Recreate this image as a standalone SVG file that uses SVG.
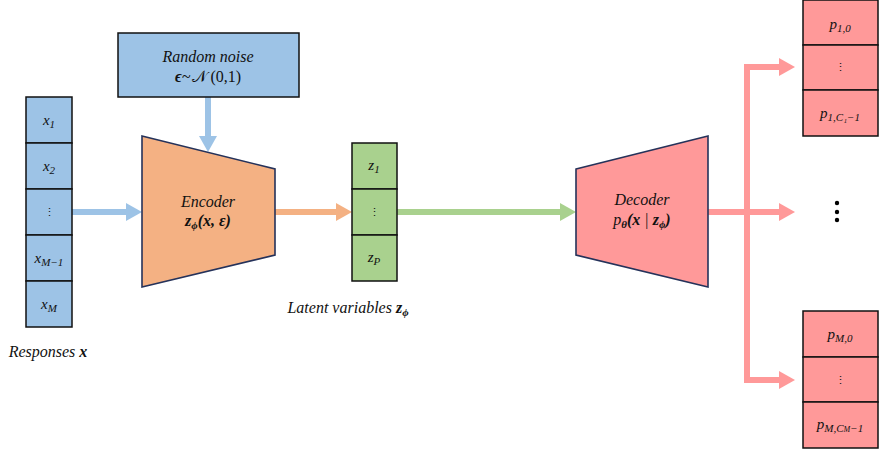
<svg xmlns="http://www.w3.org/2000/svg" width="880" height="452" viewBox="0 0 880 452">
<style>
  .t { font-family: "Liberation Serif", "DejaVu Serif", serif; font-style: italic; font-size: 16px; fill: #111; text-anchor: middle; }
  .c { font-family: "Liberation Serif", "DejaVu Serif", serif; font-style: italic; font-size: 15px; fill: #111; text-anchor: middle; }
  .v { font-family: "DejaVu Serif", serif; font-size: 11px; fill: #111; text-anchor: middle; }
  .b { font-weight: bold; }
  .sub { font-size: 11px; }
  .cell { stroke: #111; stroke-width: 1.5; }
  .blue { fill: #9DC3E6; }
  .green { fill: #A9D18E; }
  .pink { fill: #FF9999; }
  .orange { fill: #F4B183; }
  .trap { stroke: #25325A; stroke-width: 1.6; }
  .a { fill: none; stroke-width: 6; }
</style>
<defs>
  <marker id="mb" markerUnits="userSpaceOnUse" markerWidth="16" markerHeight="18" refX="6" refY="9" orient="auto-start-reverse"><path d="M0,0 L16,9 L0,18 z" fill="#9DC3E6"/></marker>
  <marker id="mo" markerUnits="userSpaceOnUse" markerWidth="16" markerHeight="18" refX="6" refY="9" orient="auto-start-reverse"><path d="M0,0 L16,9 L0,18 z" fill="#F4B183"/></marker>
  <marker id="mg" markerUnits="userSpaceOnUse" markerWidth="16" markerHeight="18" refX="6" refY="9" orient="auto-start-reverse"><path d="M0,0 L16,9 L0,18 z" fill="#A9D18E"/></marker>
  <marker id="mp" markerUnits="userSpaceOnUse" markerWidth="16" markerHeight="18" refX="6" refY="9" orient="auto-start-reverse"><path d="M0,0 L16,9 L0,18 z" fill="#FF9999"/></marker>
</defs>

<g id="connectors">
  <path class="a" stroke="#9DC3E6" d="M72,212 H132" marker-end="url(#mb)"/>
  <path class="a" stroke="#9DC3E6" d="M208,97 V142" marker-end="url(#mb)"/>
  <path class="a" stroke="#F4B183" d="M275,212 H342" marker-end="url(#mo)"/>
  <path class="a" stroke="#A9D18E" d="M397,212 H566" marker-end="url(#mg)"/>
  <path class="a" stroke="#FF9999" d="M708,212 H785" marker-end="url(#mp)"/>
  <path class="a" stroke="#FF9999" stroke-linejoin="miter" d="M785,67 H747 V380 H785" marker-start="url(#mp)" marker-end="url(#mp)"/>
</g>

<g id="responses">
  <rect class="cell blue" x="26" y="97" width="46" height="46"/>
  <rect class="cell blue" x="26" y="143" width="46" height="46"/>
  <rect class="cell blue" x="26" y="189" width="46" height="46"/>
  <rect class="cell blue" x="26" y="235" width="46" height="46"/>
  <rect class="cell blue" x="26" y="281" width="46" height="46"/>
  <text class="c" x="49" y="125">x<tspan class="sub" dy="3">1</tspan></text>
  <text class="c" x="49" y="171">x<tspan class="sub" dy="3">2</tspan></text>
  <text class="v" x="49" y="216">⋮</text>
  <text class="c" x="49" y="263">x<tspan class="sub" dy="3">M−1</tspan></text>
  <text class="c" x="49" y="309">x<tspan class="sub" dy="3">M</tspan></text>
  <text class="t" x="48" y="357">Responses <tspan class="b">x</tspan></text>
</g>

<g id="noise">
  <rect class="cell blue" x="118" y="33" width="181" height="64"/>
  <text class="t" x="208" y="62">Random noise</text>
  <text class="t" x="208" y="82"><tspan class="b">ϵ</tspan>~<tspan font-style="normal" dx="2">𝒩</tspan><tspan font-style="normal" dx="3">(0,1)</tspan></text>
</g>

<g id="encoder">
  <polygon class="trap orange" points="142,136 275,169 275,255 142,287"/>
  <text class="t" x="208" y="207">Encoder</text>
  <text class="t b" x="208" y="226">z<tspan class="sub" dy="3">ϕ</tspan><tspan dy="-3">(x, ε)</tspan></text>
</g>

<g id="latent">
  <rect class="cell green" x="352" y="143" width="45" height="46"/>
  <rect class="cell green" x="352" y="189" width="45" height="46"/>
  <rect class="cell green" x="352" y="235" width="45" height="46"/>
  <text class="c" x="374" y="170">z<tspan class="sub" dy="3">1</tspan></text>
  <text class="v" x="374" y="216">⋮</text>
  <text class="c" x="374" y="262">z<tspan class="sub" dy="3">P</tspan></text>
  <text class="t" x="348" y="313">Latent variables <tspan class="b">z</tspan><tspan class="b sub" dy="3">ϕ</tspan></text>
</g>

<g id="decoder">
  <polygon class="trap pink" points="576,169 708,136 708,287 576,255"/>
  <text class="t" x="642" y="205">Decoder</text>
  <text class="t" x="642" y="225">p<tspan class="sub b" dy="3">θ</tspan><tspan dy="-3" class="b">(x</tspan> | <tspan class="b">z</tspan><tspan class="sub b" dy="3">ϕ</tspan><tspan dy="-3" class="b">)</tspan></text>
</g>

<g id="output1">
  <rect class="cell pink" x="803" y="0" width="75" height="45"/>
  <rect class="cell pink" x="803" y="45" width="75" height="45"/>
  <rect class="cell pink" x="803" y="90" width="75" height="46"/>
  <text class="c" x="840" y="29">p<tspan class="sub" dy="3">1,0</tspan></text>
  <text class="v" x="840" y="71">⋮</text>
  <text class="c" x="840" y="118">p<tspan class="sub" dy="3">1,C₁−1</tspan></text>
</g>

<g id="ellipsis">
  <circle cx="837" cy="203" r="2.2" fill="#000"/>
  <circle cx="837" cy="212" r="2.2" fill="#000"/>
  <circle cx="837" cy="220" r="2.2" fill="#000"/>
</g>

<g id="outputM">
  <rect class="cell pink" x="803" y="311" width="75" height="46"/>
  <rect class="cell pink" x="803" y="357" width="75" height="45"/>
  <rect class="cell pink" x="803" y="402" width="75" height="46"/>
  <text class="c" x="840" y="339">p<tspan class="sub" dy="3">M,0</tspan></text>
  <text class="v" x="840" y="384">⋮</text>
  <text class="c" x="840" y="429">p<tspan class="sub" dy="3">M,C<tspan font-size="8">M</tspan>−1</tspan></text>
</g>
</svg>
